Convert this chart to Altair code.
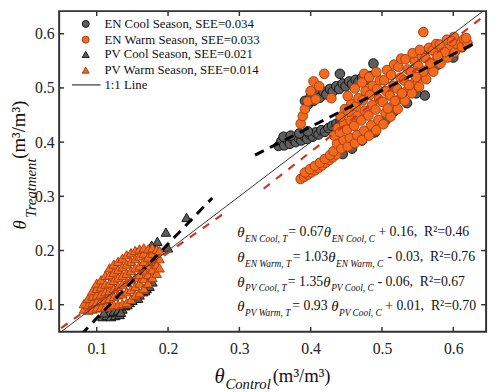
import altair as alt
import pandas as pd

FONT = "Liberation Serif"

# ---------------- data ----------------
EN_COOL = [
    (0.355, 0.393), (0.359, 0.402), (0.363, 0.394), (0.367, 0.404), (0.371, 0.397),
    (0.375, 0.406), (0.379, 0.400), (0.383, 0.408), (0.387, 0.403), (0.391, 0.411),
    (0.395, 0.406), (0.399, 0.414), (0.403, 0.410), (0.407, 0.418), (0.411, 0.414),
    (0.415, 0.422), (0.420, 0.419), (0.425, 0.426), (0.430, 0.430), (0.436, 0.434),
    (0.442, 0.438), (0.362, 0.410), (0.372, 0.412), (0.384, 0.416), (0.396, 0.420),
    (0.392, 0.476), (0.396, 0.469), (0.400, 0.483), (0.404, 0.476), (0.409, 0.488),
    (0.413, 0.482), (0.418, 0.493), (0.422, 0.488), (0.427, 0.498), (0.431, 0.493),
    (0.436, 0.503), (0.440, 0.498), (0.445, 0.508), (0.449, 0.503), (0.454, 0.512),
    (0.458, 0.507), (0.463, 0.515), (0.467, 0.511), (0.472, 0.519), (0.477, 0.514),
    (0.482, 0.522),
    (0.441, 0.526), (0.488, 0.545), (0.560, 0.486), (0.566, 0.572), (0.617, 0.588),
    (0.458, 0.388), (0.472, 0.403), (0.490, 0.418), (0.517, 0.457), (0.535, 0.472),
    (0.578, 0.543), (0.600, 0.556), (0.612, 0.575), (0.548, 0.490), (0.505, 0.440),
    (0.445, 0.378),
]

EN_WARM = [
    (0.386, 0.434), (0.389, 0.448), (0.392, 0.461), (0.396, 0.475), (0.400, 0.494),
    (0.404, 0.512), (0.407, 0.479), (0.412, 0.503), (0.419, 0.526), (0.429, 0.481),
    (0.475, 0.526), (0.558, 0.603),
    (0.386, 0.332), (0.391, 0.336), (0.396, 0.340), (0.401, 0.344), (0.406, 0.348),
    (0.411, 0.352), (0.416, 0.357), (0.421, 0.362), (0.426, 0.367), (0.431, 0.372),
    (0.436, 0.377), (0.392, 0.344), (0.399, 0.350), (0.406, 0.356), (0.413, 0.362),
    (0.420, 0.369), (0.427, 0.376),
    (0.432, 0.383), (0.437, 0.397), (0.433, 0.412), (0.438, 0.426),
    (0.443, 0.388), (0.446, 0.404), (0.441, 0.418), (0.447, 0.433), (0.442, 0.447), (0.448, 0.461),
    (0.452, 0.392), (0.455, 0.408), (0.451, 0.423), (0.456, 0.440), (0.453, 0.456), (0.457, 0.471), (0.452, 0.485),
    (0.462, 0.398), (0.465, 0.413), (0.461, 0.430), (0.466, 0.449), (0.463, 0.466), (0.467, 0.481), (0.462, 0.499),
    (0.472, 0.404), (0.475, 0.421), (0.471, 0.440), (0.476, 0.458), (0.473, 0.477), (0.477, 0.494), (0.472, 0.510),
    (0.482, 0.412), (0.485, 0.431), (0.481, 0.449), (0.486, 0.468), (0.483, 0.487), (0.487, 0.504), (0.482, 0.520),
    (0.492, 0.422), (0.495, 0.441), (0.491, 0.460), (0.496, 0.479), (0.493, 0.498), (0.497, 0.514), (0.492, 0.529),
    (0.502, 0.433), (0.505, 0.454), (0.501, 0.474), (0.506, 0.494), (0.503, 0.514), (0.507, 0.533),
    (0.512, 0.447), (0.515, 0.466), (0.511, 0.486), (0.516, 0.504), (0.513, 0.524), (0.517, 0.543),
    (0.522, 0.461), (0.525, 0.480), (0.521, 0.499), (0.526, 0.519), (0.523, 0.539), (0.527, 0.554),
    (0.532, 0.476), (0.535, 0.495), (0.531, 0.514), (0.536, 0.534), (0.533, 0.553),
    (0.542, 0.490), (0.545, 0.509), (0.541, 0.529), (0.546, 0.549), (0.543, 0.564),
    (0.552, 0.502), (0.555, 0.521), (0.551, 0.540), (0.556, 0.558), (0.553, 0.570),
    (0.562, 0.516), (0.565, 0.535), (0.561, 0.555), (0.566, 0.574),
    (0.572, 0.530), (0.575, 0.550), (0.571, 0.569), (0.576, 0.581),
    (0.582, 0.545), (0.585, 0.564), (0.581, 0.580),
    (0.592, 0.556), (0.595, 0.574), (0.591, 0.589),
    (0.602, 0.566), (0.605, 0.581), (0.601, 0.594),
    (0.612, 0.576), (0.615, 0.590), (0.620, 0.582), (0.618, 0.592),
    (0.588, 0.566), (0.598, 0.586), (0.578, 0.559), (0.568, 0.545), (0.558, 0.530),
    (0.548, 0.520), (0.538, 0.505), (0.528, 0.490), (0.518, 0.476), (0.508, 0.462),
]

PV_COOL = [
    (0.108, 0.078), (0.114, 0.080), (0.120, 0.078), (0.126, 0.080), (0.132, 0.082),
    (0.118, 0.086), (0.124, 0.088), (0.130, 0.090), (0.136, 0.092), (0.140, 0.098),
    (0.146, 0.104), (0.150, 0.108), (0.155, 0.112), (0.160, 0.118), (0.165, 0.124),
    (0.170, 0.130), (0.174, 0.134), (0.178, 0.142), (0.172, 0.140), (0.110, 0.085),
    (0.134, 0.086), (0.143, 0.100), (0.158, 0.112), (0.168, 0.126),
    (0.226, 0.261), (0.197, 0.234), (0.185, 0.217), (0.177, 0.210), (0.184, 0.203),
    (0.200, 0.205),
]

PV_WARM = [
    (0.082, 0.092), (0.082, 0.102),
    (0.088, 0.090), (0.088, 0.100), (0.088, 0.112),
    (0.094, 0.092), (0.094, 0.104), (0.094, 0.116), (0.094, 0.126),
    (0.100, 0.094), (0.100, 0.106), (0.100, 0.118), (0.100, 0.130), (0.100, 0.140),
    (0.106, 0.095), (0.106, 0.108), (0.106, 0.120), (0.106, 0.133), (0.106, 0.146),
    (0.112, 0.096), (0.112, 0.110), (0.112, 0.124), (0.112, 0.138), (0.112, 0.154),
    (0.118, 0.098), (0.118, 0.112), (0.118, 0.126), (0.118, 0.140), (0.118, 0.155), (0.118, 0.168),
    (0.124, 0.100), (0.124, 0.115), (0.124, 0.130), (0.124, 0.145), (0.124, 0.160), (0.124, 0.175),
    (0.130, 0.100), (0.130, 0.118), (0.130, 0.134), (0.130, 0.150), (0.130, 0.165), (0.130, 0.180),
    (0.136, 0.102), (0.136, 0.120), (0.136, 0.138), (0.136, 0.154), (0.136, 0.170), (0.136, 0.186),
    (0.142, 0.104), (0.142, 0.124), (0.142, 0.142), (0.142, 0.158), (0.142, 0.175), (0.142, 0.192),
    (0.148, 0.110), (0.148, 0.128), (0.148, 0.146), (0.148, 0.163), (0.148, 0.180), (0.148, 0.196),
    (0.154, 0.118), (0.154, 0.134), (0.154, 0.150), (0.154, 0.168), (0.154, 0.185), (0.154, 0.200),
    (0.160, 0.122), (0.160, 0.140), (0.160, 0.156), (0.160, 0.172), (0.160, 0.190), (0.160, 0.203),
    (0.166, 0.130), (0.166, 0.148), (0.166, 0.164), (0.166, 0.180), (0.166, 0.195), (0.166, 0.205),
    (0.172, 0.140), (0.172, 0.156), (0.172, 0.172), (0.172, 0.188), (0.172, 0.203),
    (0.178, 0.150), (0.178, 0.165), (0.178, 0.180), (0.178, 0.195), (0.178, 0.205),
    (0.184, 0.158), (0.184, 0.174), (0.184, 0.190), (0.184, 0.202),
    (0.188, 0.168), (0.188, 0.185), (0.188, 0.200),
]

# fitted lines (endpoints)
LINE_EN_COOL = [(0.322, 0.376), (0.631, 0.583)]
LINE_EN_WARM = [(0.334, 0.314), (0.650, 0.640)]
LINE_PV_COOL = [(0.078, 0.045), (0.262, 0.297)]
LINE_PV_WARM = [(0.050, 0.057), (0.281, 0.271)]
LINE_ONE = [(0.05, 0.05), (0.65, 0.65)]

X_TICKS = [0.1, 0.2, 0.3, 0.4, 0.5, 0.6]
Y_TICKS = [0.1, 0.2, 0.3, 0.4, 0.5, 0.6]

LEGEND_LABELS = [
    "EN Cool Season, SEE=0.034",
    "EN Warm Season, SEE=0.033",
    "PV Cool Season, SEE=0.021",
    "PV Warm Season, SEE=0.014",
    "1:1 Line",
]

EQ_SUB_T = ["EN Cool, T", "EN Warm, T", "PV Cool, T", "PV Warm, T"]
EQ_MAIN = ["= 0.67", "= 1.03", "= 1.35", "= 0.93"]
EQ_SUB_C = ["EN Cool, C", "EN Warm, C", "PV Cool, C", "PV Cool, C"]
EQ_TAIL = ["+ 0.16,\u00a0\u00a0R²=0.46", "- 0.03,\u00a0\u00a0R²=0.76",
           "- 0.06,\u00a0\u00a0R²=0.67", "+ 0.01,\u00a0\u00a0R²=0.70"]

# ---------------- layout ----------------
W, H = 434, 326
GRAY_FILL, GRAY_STROKE = "#5e5e5e", "#111111"
OR_FILL, OR_STROKE = "#f36a1e", "#a63e0e"
RED = "#c9371f"

xs = alt.Scale(domain=[0.0473, 0.646], nice=False, zero=False)
ys = alt.Scale(domain=[0.050, 0.6417], nice=False, zero=False)
xaxis = alt.Axis(values=X_TICKS, format=".1f", grid=False, ticks=False, domain=False,
                 title=None, labelFont=FONT, labelFontSize=16, labelColor="#222",
                 labelPadding=9)
yaxis = alt.Axis(values=Y_TICKS, format=".1f", grid=False, ticks=False, domain=False,
                 title=None, labelFont=FONT, labelFontSize=16, labelColor="#222",
                 labelPadding=5)


def pts(pairs):
    return pd.DataFrame({"x": [p[0] for p in pairs], "y": [p[1] for p in pairs]})


def XE():
    return alt.X("x:Q", scale=xs, axis=xaxis)


def YE():
    return alt.Y("y:Q", scale=ys, axis=yaxis)


def scatter(pairs, shape, fill, stroke, size):
    return alt.Chart(pts(pairs)).mark_point(
        shape=shape, filled=True, fill=fill, stroke=stroke, strokeWidth=1,
        size=size, opacity=1
    ).encode(x=XE(), y=YE())


def line(pairs, color, width, dash=None):
    kw = dict(color=color, strokeWidth=width, clip=True)
    if dash:
        kw["strokeDash"] = dash
    return alt.Chart(pts(pairs)).mark_line(**kw).encode(x=XE(), y=YE())


layers = [
    scatter(EN_COOL, "circle", GRAY_FILL, GRAY_STROKE, 95),
    scatter(EN_WARM, "circle", OR_FILL, OR_STROKE, 95),
    scatter(PV_COOL, "triangle-up", GRAY_FILL, GRAY_STROKE, 95),
    scatter(PV_WARM, "triangle-up", OR_FILL, OR_STROKE, 95),
    line(LINE_ONE, "#333333", 1),
    line(LINE_EN_COOL, "#000000", 3, [10, 7]),
    line(LINE_PV_COOL, "#000000", 3, [10, 7]),
    line(LINE_EN_WARM, RED, 2.2, [8, 8]),
    line(LINE_PV_WARM, RED, 2.2, [8, 8]),
]

# inward tick marks on all four sides
xt = pd.DataFrame({"x": X_TICKS})
yt = pd.DataFrame({"y": Y_TICKS})
tick_style = dict(color="#333", strokeWidth=1.5)
layers += [
    alt.Chart(xt).mark_rule(**tick_style).encode(x=XE(), y=alt.value(H), y2=alt.value(H - 5)),
    alt.Chart(xt).mark_rule(**tick_style).encode(x=XE(), y=alt.value(0), y2=alt.value(5)),
    alt.Chart(yt).mark_rule(**tick_style).encode(y=YE(), x=alt.value(0), x2=alt.value(5)),
    alt.Chart(yt).mark_rule(**tick_style).encode(y=YE(), x=alt.value(W), x2=alt.value(W - 5)),
]

# legend
leg_rows = [13, 29, 44, 60, 75]
leg_marks = [("circle", GRAY_FILL, GRAY_STROKE), ("circle", OR_FILL, OR_STROKE),
             ("triangle-up", GRAY_FILL, GRAY_STROKE), ("triangle-up", OR_FILL, OR_STROKE)]
for (shape, f, s), yy in zip(leg_marks, leg_rows[:4]):
    layers.append(
        alt.Chart(pd.DataFrame({"a": [0]})).mark_point(
            shape=shape, filled=True, fill=f, stroke=s, strokeWidth=1, size=50, opacity=1
        ).encode(x=alt.value(27), y=alt.value(yy))
    )
layers.append(
    alt.Chart(pd.DataFrame({"a": [0]})).mark_rule(color="#333", strokeWidth=1.2).encode(
        x=alt.value(13), x2=alt.value(42), y=alt.value(leg_rows[4]))
)
leg_df = pd.DataFrame({"label": LEGEND_LABELS, "row": leg_rows})
layers.append(
    alt.Chart(leg_df).mark_text(align="left", baseline="middle", font=FONT, fontSize=13,
                                color="#111").encode(
        x=alt.value(46), y=alt.Y("row:Q", scale=None), text="label:N")
)

# equations: x positions of each piece (plot pixels)
eq_rows = [225, 250, 275, 300]
subt_x = [189, 189, 189, 189]
main_x = [233, 237.5, 232.5, 237]
th2_x = [269, 273.5, 268.5, 276.5]
subc_x = [277, 281.5, 276.5, 284.5]
tail_x = [324.5, 333.8, 323.5, 331.5]
for i, yy in enumerate(eq_rows):
    d = pd.DataFrame({"a": [0]})
    pieces = [
        ("θ", 181, yy, 15, "italic"),
        (EQ_SUB_T[i], subt_x[i], yy + 7, 9.5, "italic"),
        (EQ_MAIN[i], main_x[i], yy, 14, "normal"),
        ("θ", th2_x[i], yy, 15, "italic"),
        (EQ_SUB_C[i], subc_x[i], yy + 7, 9.5, "italic"),
        (EQ_TAIL[i], tail_x[i], yy, 14, "normal"),
    ]
    for txt, px, py, fs, st in pieces:
        layers.append(
            alt.Chart(d).mark_text(align="left", baseline="middle", font=FONT, fontSize=fs,
                                   fontStyle=st, color="#111", text=txt).encode(
                x=alt.value(px), y=alt.value(py))
        )

# axis titles built from pieces (subscripts)
d0 = pd.DataFrame({"a": [0]})
title_pieces = [
    ("θ", 158, 372, 21, "italic", 0),
    ("Control", 169, 379, 15, "italic", 0),
    ("(m³/m³)", 217, 371, 19, "normal", 0),
    ("θ", -40, 222, 19, "italic", 270),
    ("Treatment", -29, 210, 15, "italic", 270),
    ("(m³/m³)", -41, 150, 19, "normal", 270),
]
for txt, px, py, fs, st, ang in title_pieces:
    if ang:
        mk = alt.Chart(d0).mark_text(align="left", baseline="middle", font=FONT, fontSize=fs,
                                     fontStyle=st, color="#111", text=txt, angle=ang)
    else:
        mk = alt.Chart(d0).mark_text(align="left", baseline="middle", font=FONT, fontSize=fs,
                                     fontStyle=st, color="#111", text=txt)
    layers.append(mk.encode(x=alt.value(px), y=alt.value(py)))

chart = alt.layer(*layers).properties(
    width=W, height=H,
    autosize=alt.AutoSizeParams(type="none"),
    padding={"left": 52, "top": 0, "right": 6, "bottom": 58},
).configure_view(stroke="#333", strokeWidth=2)

chart.save("out.html", embed_options={"renderer": "svg", "actions": False})
